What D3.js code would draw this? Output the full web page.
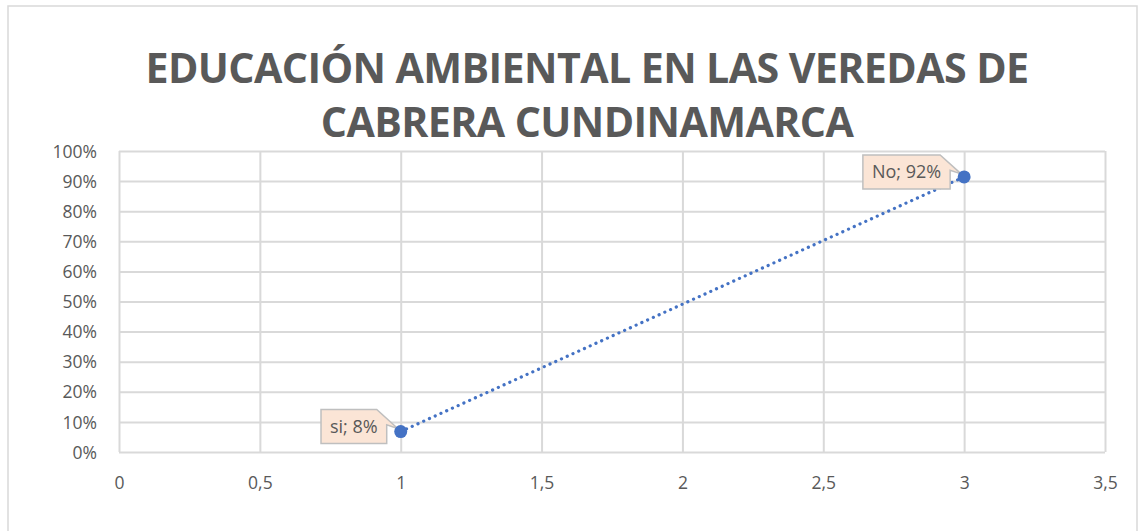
<!DOCTYPE html>
<html><head><meta charset="utf-8">
<script src="https://cdn.jsdelivr.net/npm/d3@7"></script>
<style>
html,body{margin:0;padding:0;background:#fff;}
svg{display:block;}
</style></head>
<body>
<svg id="chart" width="1139" height="531"></svg>
<script>
// ---- data ----
const titleLines = ["EDUCACIÓN AMBIENTAL EN LAS VEREDAS DE", "CABRERA CUNDINAMARCA"];
const categories = ["si", "No"];
const xValues = [1, 3];
const yValues = [0.068, 0.914];
const labelPercents = ["8%", "92%"];
const yTicks = [0,0.1,0.2,0.3,0.4,0.5,0.6,0.7,0.8,0.9,1];
const xTicks = [0,0.5,1,1.5,2,2.5,3,3.5];

const W = 1139, H = 531;
const svg = d3.select("#chart");
const margin = {left:119, right:1105, top:151, bottom:452};

svg.append("rect").attr("x",8).attr("y",6).attr("width",1129).attr("height",540)
  .attr("fill","#fff").attr("stroke","#d9d9d9").attr("stroke-width",1.5);

const x = d3.scaleLinear().domain([0,3.5]).range([margin.left, margin.right]);
const y = d3.scaleLinear().domain([0,1]).range([margin.bottom, margin.top]);

// gridlines
const fmtComma = d => d3.format("")(d).replace(".", ",");
const gx = svg.append("g").attr("transform",`translate(0,${margin.bottom})`)
  .call(d3.axisBottom(x).tickValues(xTicks).tickSize(-(margin.bottom-margin.top)).tickFormat(fmtComma));
gx.select(".domain").remove();
gx.selectAll("line").attr("stroke","#d9d9d9").attr("stroke-width",2);
gx.selectAll("text").attr("fill","#595959").attr("font-family","'Open Sans', sans-serif")
  .attr("font-size",17.5).attr("dy",0).attr("y",37);

const gy = svg.append("g").attr("transform",`translate(${margin.left},0)`)
  .call(d3.axisLeft(y).tickValues(yTicks).tickSize(-(margin.right-margin.left)).tickFormat(d3.format(".0%")));
gy.select(".domain").remove();
gy.selectAll("line").attr("stroke","#d9d9d9").attr("stroke-width",2);
gy.selectAll("text").attr("fill","#595959").attr("font-family","'Open Sans', sans-serif")
  .attr("font-size",17.5).attr("x",-22).attr("dy","0.35em");

// title
const title = svg.append("g");
const titleBase = [83, 137];
titleLines.forEach((t,i)=>{
  title.append("text").attr("x",587).attr("y",titleBase[i]).attr("text-anchor","middle")
    .attr("font-family","'Open Sans', sans-serif").attr("font-weight","bold")
    .attr("font-size",36).attr("fill","#595959").attr("letter-spacing",-0.6).text(t);
});
const t0 = title.select("text").node();
const w0 = t0.getComputedTextLength();
const fs = 36*880/w0;
title.selectAll("text").attr("font-size",fs);

// line
const pts = xValues.map((v,i)=>({x:v,y:yValues[i],cat:categories[i],pct:labelPercents[i]}));
svg.append("path").datum(pts)
  .attr("d", d3.line().x(d=>x(d.x)).y(d=>y(d.y)))
  .attr("fill","none").attr("stroke","#4472C4").attr("stroke-width",3.2)
  .attr("stroke-linecap","round").attr("stroke-dasharray","0.1 6.2");

// labels (callouts)
const lab = svg.append("g");
pts.forEach(d=>{
  const px = x(d.x), py = y(d.y);
  const g = lab.append("g");
  const txt = g.append("text").attr("font-family","'Open Sans', sans-serif").attr("font-size",18)
    .attr("fill","#595959").text(`${d.cat}; ${d.pct}`);
  const tw = txt.node().getComputedTextLength();
  const bw = tw + 18, bh = 34;
  const x1 = px - 14, x0 = x1 - bw;
  const cy = py - 5;
  const y0 = cy - bh/2, y1 = cy + bh/2;
  const tipX = px - 3, tipY = py - 3;
  const path = `M${x0},${y0} H${x1-10} L${tipX},${tipY} L${x1},${y0+bh*0.45} V${y1} H${x0} Z`;
  g.insert("path","text").attr("d",path).attr("fill","#FBE5D6").attr("stroke","#bfbfbf").attr("stroke-width",1.5);
  txt.attr("x", x0 + 9).attr("y", cy).attr("dy","0.36em");
});

// markers
svg.append("g").selectAll("circle").data(pts).join("circle")
  .attr("cx",d=>x(d.x)).attr("cy",d=>y(d.y)).attr("r",6.5).attr("fill","#4472C4");
</script>
</body></html>
